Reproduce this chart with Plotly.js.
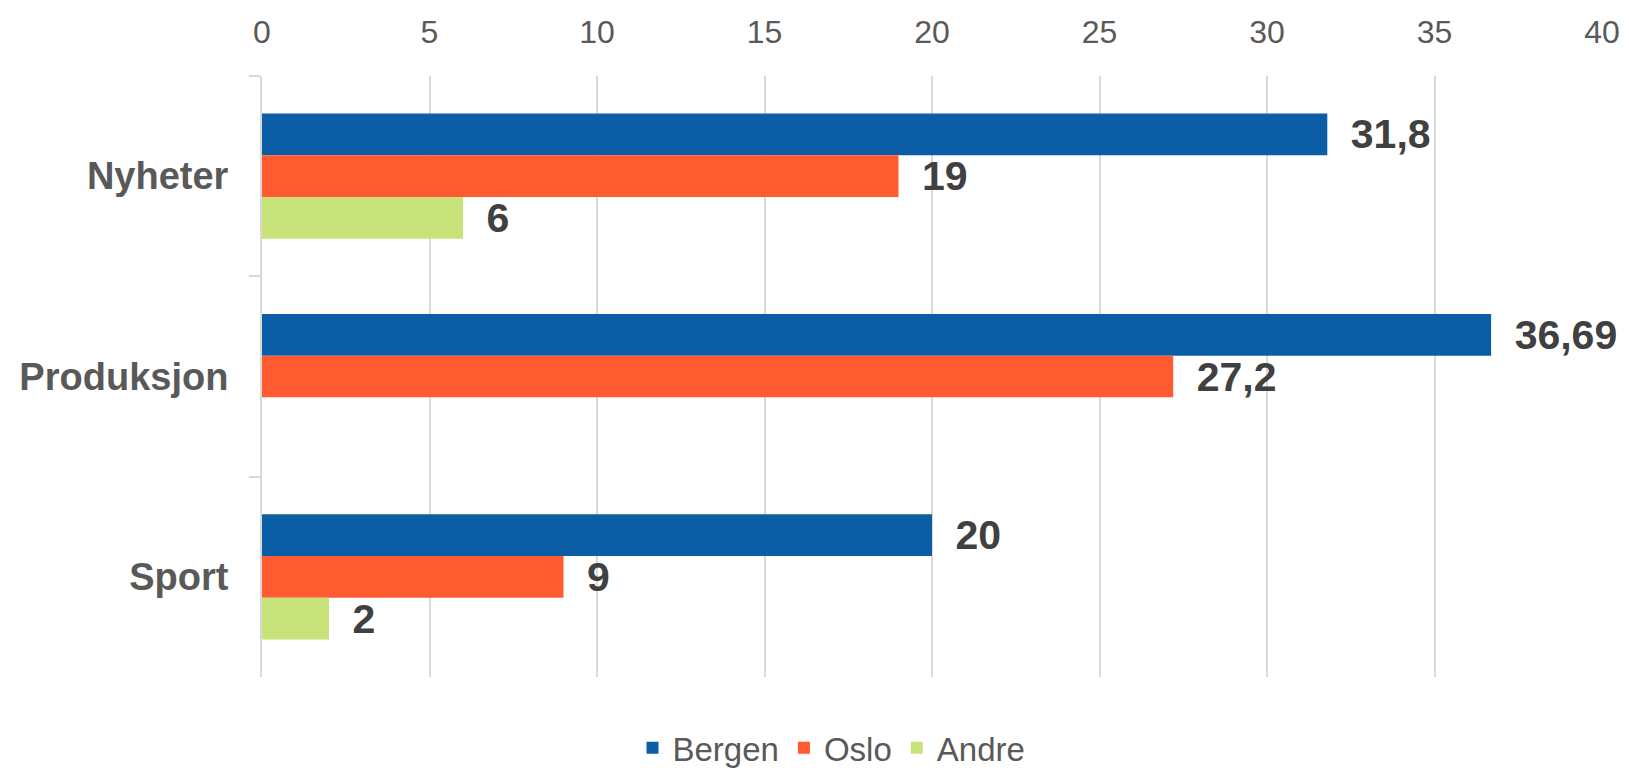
<!DOCTYPE html>
<html>
<head>
<meta charset="utf-8">
<script src="https://cdn.plot.ly/plotly-3.0.1.min.js"></script>
<style>
  html, body { margin: 0; padding: 0; background: #fff; overflow: hidden; }
  #chart { width: 1629px; height: 771px; }
</style>
</head>
<body>
<div id="chart"></div>
<script>
'use strict';

const categories = ['Nyheter', 'Produksjon', 'Sport'];
const bergen = [31.8, 36.69, 20];
const oslo = [19, 27.2, 9];
const andre = [6, null, 2];

const FONT = 'Liberation Sans, Arial, sans-serif';

// comma decimals like the original, small gap before the label
const lbl = vals => vals.map(v => v === null ? '' : '\u2002' + String(v).replace('.', ','));

function barTrace(name, vals, color) {
    return {
        type: 'bar', orientation: 'h', name,
        y: categories, x: vals,
        marker: { color, line: { width: 0 } },
        text: lbl(vals), textposition: 'outside', cliponaxis: false, constraintext: 'none',
        textfont: { family: FONT, size: 41, color: '#404040', weight: 'bold' },
        hoverinfo: 'x+name'
    };
}

const data = [
    barTrace('Bergen', bergen, '#0b5ea6'),
    barTrace('Oslo', oslo, '#ff5a30'),
    barTrace('Andre', andre, '#c8e27a')
];

const layout = {
    width: 1629, height: 771,
    margin: { l: 262, r: 27, t: 76, b: 94 },
    paper_bgcolor: '#fff', plot_bgcolor: '#fff',
    barmode: 'group', bargap: 0.375, bargroupgap: 0,
    showlegend: true,
    legend: {
        orientation: 'h', xref: 'paper', x: 0.425, xanchor: 'center',
        yref: 'container', y: 0.03, yanchor: 'middle',
        font: { family: FONT, size: 33, color: '#595959' }, itemwidth: 30, traceorder: 'normal'
    },
    xaxis: {
        side: 'top', range: [0, 40], dtick: 5, tick0: 0,
        showgrid: true, gridcolor: '#d9d9d9', gridwidth: 2,
        zeroline: false, showline: false, ticks: '', ticklabelstandoff: 26,
        tickfont: { family: FONT, size: 32, color: '#595959' }
    },
    yaxis: {
        type: 'category', autorange: 'reversed',
        showgrid: false, zeroline: false,
        showline: true, linecolor: '#d9d9d9', linewidth: 2,
        ticks: 'outside', tickson: 'boundaries', ticklen: 11, tickcolor: '#d9d9d9', tickwidth: 2,
        ticklabelstandoff: 24,
        tickfont: { family: FONT, size: 38, color: '#595959', weight: 'bold' }
    }
};

Plotly.newPlot('chart', data, layout, { displayModeBar: false, staticPlot: true });
</script>
</body>
</html>
